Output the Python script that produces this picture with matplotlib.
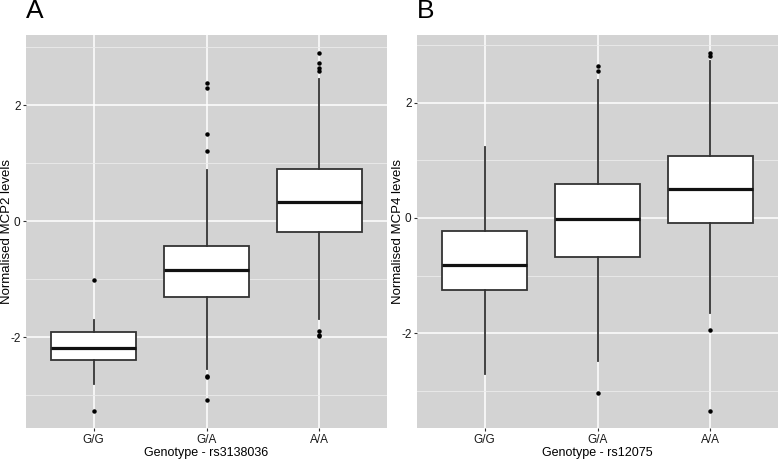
import matplotlib
matplotlib.use("Agg")
import matplotlib.pyplot as plt
from matplotlib.ticker import MultipleLocator

plt.rcParams['font.family'] = ['Liberation Sans', 'DejaVu Sans']
plt.rcParams['axes.unicode_minus'] = False

# genotype categories
genos = ["G/G", "G/A", "A/A"]

# panel A - MCP2 by rs3138036
a_q1 = [-2.39, -1.30, -0.18]
a_med = [-2.18, -0.83, 0.33]
a_q3 = [-1.91, -0.43, 0.91]
a_lo = [-2.81, -2.55, -1.68]
a_hi = [-1.70, 0.88, 2.45]
a_out = [
    [-1.01, -3.27],
    [2.39, 2.30, 1.50, 1.22, -2.67, -2.69, -3.08],
    [2.90, 2.72, 2.65, 2.59, -1.89, -1.95, -1.98],
]

# panel B - MCP4 by rs12075
b_q1 = [-1.25, -0.67, -0.09]
b_med = [-0.82, -0.02, 0.51]
b_q3 = [-0.22, 0.59, 1.07]
b_lo = [-2.72, -2.48, -1.65]
b_hi = [1.24, 2.40, 2.73]
b_out = [
    [],
    [2.64, 2.56, -3.04],
    [2.87, 2.82, -1.94, -3.35],
]


def make_stats(q1, med, q3, lo, hi, out):
    stats = []
    for i in range(len(genos)):
        stats.append(dict(q1=q1[i], med=med[i], q3=q3[i],
                          whislo=lo[i], whishi=hi[i], fliers=out[i], label=genos[i]))
    return stats


def draw_panel(ax, stats, ylim, xlabel, ylabel, letter):
    ax.set_facecolor('#d3d3d3')
    ax.bxp(stats, positions=[1, 2, 3], widths=0.75, patch_artist=True,
           showcaps=False,
           boxprops=dict(facecolor='white', edgecolor='#333333', linewidth=1.3),
           medianprops=dict(color='#111111', linewidth=2.3),
           whiskerprops=dict(color='#333333', linewidth=1.3),
           flierprops=dict(marker='o', markersize=2.2, markerfacecolor='black',
                           markeredgecolor='black', linestyle='none'))
    ax.set_xlim(0.4, 3.6)
    ax.set_ylim(*ylim)
    ax.yaxis.set_major_locator(MultipleLocator(2))
    ax.yaxis.set_minor_locator(MultipleLocator(1))
    ax.grid(which='major', color='white', linewidth=1.1, zorder=0)
    ax.grid(which='minor', axis='y', color='#ececec', linewidth=0.6, zorder=0)
    ax.set_axisbelow(True)
    for s in ax.spines.values():
        s.set_visible(False)
    ax.tick_params(which='major', length=2.5, width=0.8, color='#333333',
                   labelsize=8.5, labelcolor='#1a1a1a', pad=1.5)
    ax.tick_params(which='minor', length=0)
    ax.set_xlabel(xlabel, fontsize=9, labelpad=1)
    ax.set_ylabel(ylabel, fontsize=9.5)
    ax.yaxis.set_label_coords(-0.036, 0.5)
    ax.text(0.0, 1.03, letter, transform=ax.transAxes, fontsize=19,
            ha='left', va='bottom')


fig = plt.figure(figsize=(7.78, 4.59), dpi=100)
axA = fig.add_axes([26 / 778, 31 / 459, 361 / 778, 393 / 459])
axB = fig.add_axes([417 / 778, 31 / 459, 361 / 778, 393 / 459])

draw_panel(axA, make_stats(a_q1, a_med, a_q3, a_lo, a_hi, a_out), (-3.56, 3.21),
           "Genotype - rs3138036", "Normalised MCP2 levels", "A")
draw_panel(axB, make_stats(b_q1, b_med, b_q3, b_lo, b_hi, b_out), (-3.65, 3.18),
           "Genotype - rs12075", "Normalised MCP4 levels", "B")

fig.savefig("out.png", dpi=100)
